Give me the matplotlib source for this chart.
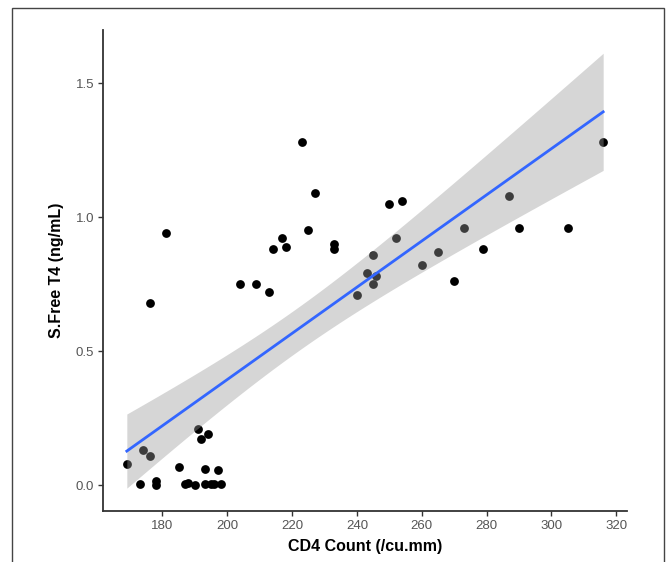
import numpy as np
import matplotlib
matplotlib.use("Agg")
import matplotlib.pyplot as plt
from matplotlib.patches import Rectangle

plt.rcParams['font.family'] = ['Liberation Sans', 'DejaVu Sans']

# CD4 count vs free T4
cd4 = [169, 173, 174, 176, 176, 178, 178, 181, 185, 187, 188, 190, 191, 192,
       193, 193, 194, 195, 196, 197, 198, 204, 209, 213, 214, 217, 218, 223,
       225, 227, 233, 233, 240, 243, 245, 245, 246, 250, 252, 254, 260, 265,
       270, 273, 279, 287, 290, 305, 316]
ft4 = [0.08, 0.005, 0.13, 0.11, 0.68, 0.016, 0.0, 0.94, 0.067, 0.005, 0.007,
       0.0, 0.21, 0.17, 0.06, 0.005, 0.19, 0.005, 0.005, 0.057, 0.005, 0.75,
       0.75, 0.72, 0.88, 0.92, 0.89, 1.28, 0.95, 1.09, 0.90, 0.88, 0.71, 0.79,
       0.86, 0.75, 0.78, 1.05, 0.92, 1.06, 0.82, 0.87, 0.76, 0.96, 0.88, 1.08,
       0.96, 0.96, 1.28]
xticks = [180, 200, 220, 240, 260, 280, 300, 320]
yticks = [0.0, 0.5, 1.0, 1.5]

x = np.array(cd4, dtype=float)
y = np.array(ft4, dtype=float)

# linear fit with 95% confidence band
n = len(x)
slope, intercept = np.polyfit(x, y, 1)
resid = y - (slope * x + intercept)
s = np.sqrt(np.sum(resid ** 2) / (n - 2))
xs = np.linspace(x.min(), x.max(), 80)
ys = slope * xs + intercept
se = s * np.sqrt(1.0 / n + (xs - x.mean()) ** 2 / np.sum((x - x.mean()) ** 2))
tval = 2.0117  # t(0.975, 47)

fig = plt.figure(figsize=(6.68, 5.62), dpi=100)
ax = fig.add_axes([0.1542, 0.0907, 0.7844, 0.8559])

ax.scatter(x, y, s=40, color='black', linewidths=0, zorder=2)
ax.fill_between(xs, ys - tval * se, ys + tval * se, color='#999999', alpha=0.4,
                linewidth=0, zorder=3)
ax.plot(xs, ys, color='#3366FF', linewidth=2, zorder=4)

ax.set_xlim(161.65, 323.35)
ax.set_ylim(-0.097, 1.698)
ax.set_xticks(xticks)
ax.set_yticks(yticks)
ax.set_yticklabels(['0.0', '0.5', '1.0', '1.5'])

for side in ['top', 'right']:
    ax.spines[side].set_visible(False)
for side in ['left', 'bottom']:
    ax.spines[side].set_color('#333333')
    ax.spines[side].set_linewidth(1.3)
ax.tick_params(length=3.5, width=1.0, color='#333333', labelcolor='#555555',
               labelsize=9.5, pad=3)

ax.set_xlabel('CD4 Count (/cu.mm)', fontsize=11.5, fontweight='bold', labelpad=5)
ax.set_ylabel('S.Free T4 (ng/mL)', fontsize=11.5, fontweight='bold', labelpad=8)

# outer frame
fig.patches.append(Rectangle((12.5 / 668, -0.05), (664 - 12.5) / 668, 1.05 - 8 / 562,
                             transform=fig.transFigure, fill=False,
                             edgecolor='#444444', linewidth=1.0))

fig.savefig('out.png', dpi=100)
